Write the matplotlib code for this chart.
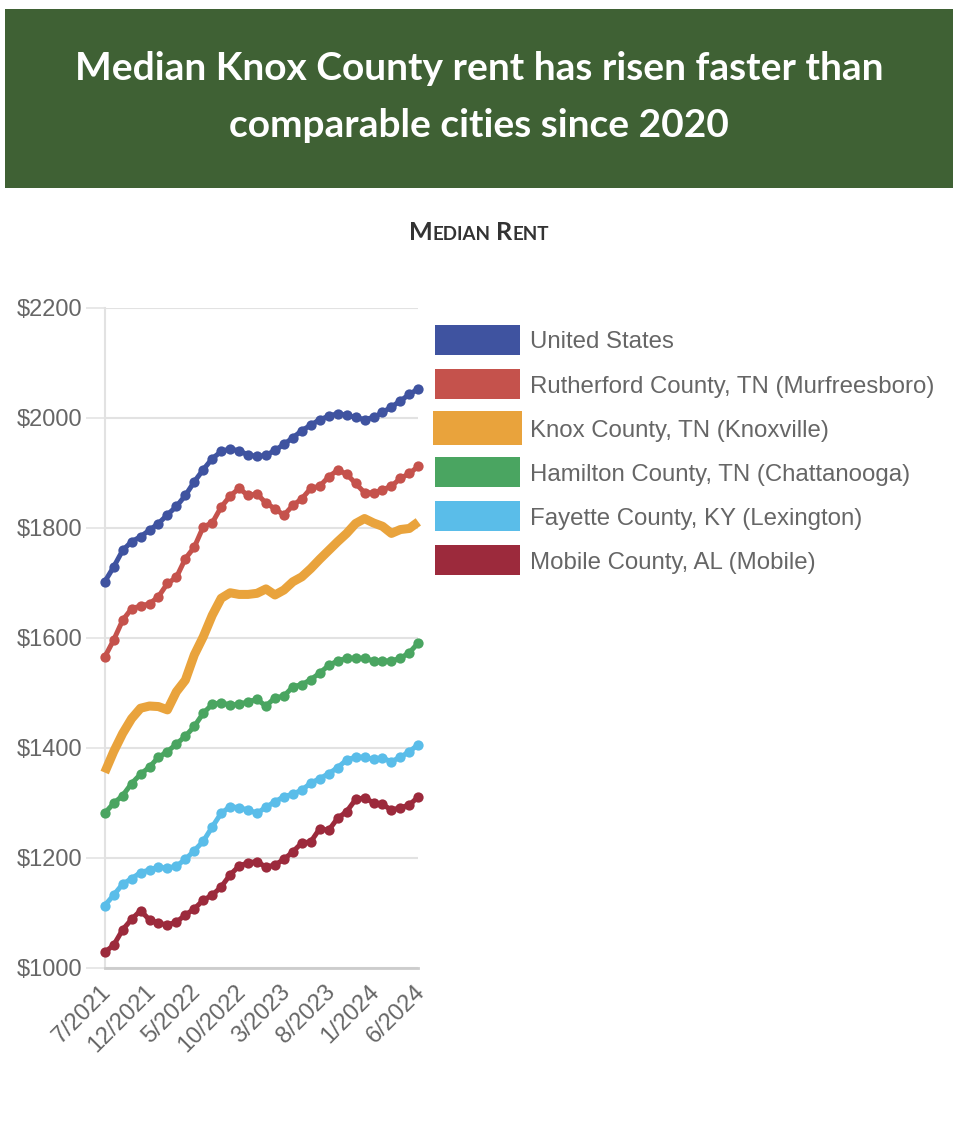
import matplotlib
matplotlib.use('Agg')
import matplotlib.pyplot as plt
from matplotlib.patches import Rectangle
from matplotlib.ticker import FuncFormatter
import matplotlib.transforms as mtransforms
import numpy as np

# ---------------- data ----------------
month_index = list(range(36))  # 7/2021 .. 6/2024, monthly
tick_positions = [0, 5, 10, 15, 20, 25, 30, 35]
tick_labels = ['7/2021', '12/2021', '5/2022', '10/2022', '3/2023', '8/2023', '1/2024', '6/2024']

series_names = ['United States', 'Rutherford County, TN (Murfreesboro)', 'Knox County, TN (Knoxville)',
                'Hamilton County, TN (Chattanooga)', 'Fayette County, KY (Lexington)', 'Mobile County, AL (Mobile)']

united_states = [1702, 1729, 1759, 1775, 1784, 1796, 1808, 1824, 1839, 1859, 1884, 1906, 1926, 1939, 1944, 1940,
                 1933, 1930, 1932, 1941, 1952, 1964, 1977, 1987, 1997, 2003, 2008, 2005, 2001, 1997, 2001, 2010,
                 2020, 2031, 2043, 2053]
rutherford = [1565, 1596, 1632, 1653, 1658, 1662, 1675, 1699, 1710, 1744, 1765, 1802, 1809, 1838, 1858, 1872,
              1859, 1862, 1845, 1835, 1823, 1841, 1853, 1872, 1876, 1893, 1905, 1898, 1881, 1864, 1864, 1869,
              1876, 1890, 1899, 1912]
knox = [1355, 1393, 1426, 1453, 1472, 1476, 1475, 1469, 1502, 1523, 1569, 1602, 1641, 1672, 1682, 1679,
        1679, 1681, 1689, 1678, 1687, 1702, 1711, 1726, 1743, 1759, 1775, 1790, 1808, 1817, 1809, 1803,
        1790, 1797, 1799, 1811]
hamilton = [1281, 1299, 1313, 1335, 1352, 1365, 1383, 1393, 1407, 1421, 1439, 1463, 1479, 1482, 1478, 1479,
            1484, 1488, 1476, 1491, 1494, 1511, 1515, 1524, 1536, 1550, 1558, 1563, 1563, 1563, 1558, 1558,
            1558, 1563, 1573, 1591]
fayette = [1113, 1132, 1152, 1162, 1173, 1178, 1183, 1181, 1185, 1197, 1213, 1230, 1256, 1281, 1293, 1291,
           1287, 1281, 1292, 1302, 1311, 1316, 1323, 1336, 1344, 1353, 1364, 1378, 1383, 1383, 1379, 1381,
           1375, 1383, 1393, 1406]
mobile = [1028, 1041, 1069, 1088, 1104, 1087, 1081, 1078, 1083, 1096, 1107, 1123, 1132, 1147, 1169, 1185,
          1191, 1193, 1183, 1187, 1197, 1211, 1227, 1229, 1253, 1250, 1272, 1284, 1306, 1309, 1300, 1297,
          1287, 1291, 1296, 1311]

y_ticks = [1000, 1200, 1400, 1600, 1800, 2000, 2200]

# ---------------- style ----------------
colors = ['#3f53a0', '#c5524c', '#e9a33c', '#4aa561', '#5abde9', '#9c2a3c']
all_series = [united_states, rutherford, knox, hamilton, fayette, mobile]

W, H = 962, 1132
fig = plt.figure(figsize=(W / 100, H / 100), dpi=100)
fig.patch.set_facecolor('white')


def fx(x):
    return x / W


def fy(y):
    return 1 - y / H


# title band
fig.patches.append(Rectangle((fx(5), fy(188)), fx(948), 179 / H, transform=fig.transFigure,
                             facecolor='#3f6134', edgecolor='none', zorder=0))

renderer = fig.canvas.get_renderer()


def fit_text(x, y, s, target_w, **kw):
    t = fig.text(x, y, s, **kw)
    w = t.get_window_extent(renderer).width
    t.set_fontsize(t.get_fontsize() * target_w / w)
    return t


fit_text(fx(479), fy(80), 'Median Knox County rent has risen faster than', 809,
         ha='center', va='baseline', color='white', fontsize=26, fontweight='bold', family='Lato')
fit_text(fx(479), fy(137), 'comparable cities since 2020', 500,
         ha='center', va='baseline', color='white', fontsize=26, fontweight='bold', family='Lato')

# small caps "Median Rent"
pieces = [('M', 17.5), ('EDIAN', 13.0), (' ', 13.0), ('R', 17.5), ('ENT', 13.0)]
tmp = []
total = 0
for s, sz in pieces:
    t = fig.text(0, 0, s, fontsize=sz, fontweight='bold', family='Lato', color='#333333')
    w = t.get_window_extent(renderer).width if s.strip() else sz * 0.28 * 100 / 72
    tmp.append((t, w))
    total += w
scale = 140 / total
xcur = 479 - total * scale / 2
for (t, w), (s, sz) in zip(tmp, pieces):
    t.set_fontsize(sz * scale)
    t.set_position((fx(xcur), fy(240)))
    t.set_va('baseline')
    xcur += w * scale

# ---------------- axes ----------------
ax = fig.add_axes([fx(104.7), fy(967.7), fx(313.6), 659.7 / H])
ax.set_xlim(0, 35)
ax.set_ylim(1000, 2200)
for sp in ['top', 'right']:
    ax.spines[sp].set_visible(False)
ax.spines['left'].set_color('#e2e2e2')
ax.spines['left'].set_linewidth(1.5)
ax.spines['bottom'].set_color('#cccccc')
ax.spines['bottom'].set_linewidth(2)
ax.set_yticks(y_ticks)
ax.yaxis.set_major_formatter(FuncFormatter(lambda v, p: f'${int(v)}'))
ax.yaxis.grid(True, color='#e2e2e2', linewidth=1.5, zorder=0)
ax.set_axisbelow(True)
ax.tick_params(axis='y', length=13.7, width=1.1, color='#e2e2e2', pad=2.5,
               labelsize=17, labelcolor='#666666')
ax.set_xticks(tick_positions)
ax.set_xticklabels(tick_labels)
ax.tick_params(axis='x', length=0, pad=15, labelsize=17, labelcolor='#666666')
for lab in ax.get_xticklabels() + ax.get_yticklabels():
    lab.set_family('Liberation Sans')
for lab in ax.get_xticklabels():
    lab.set_rotation(45)
    lab.set_ha('right')
    lab.set_va('center')
    lab.set_rotation_mode('anchor')
    lab.set_transform(lab.get_transform() + mtransforms.ScaledTranslation(3 / 100, 0, fig.dpi_scale_trans))

for name, vals, c in zip(series_names, all_series, colors):
    if name.startswith('Knox'):
        ax.plot(month_index, vals, color=c, lw=6.5, solid_capstyle='butt', solid_joinstyle='round',
                clip_on=False, zorder=3)
    else:
        ax.plot(month_index, vals, color=c, lw=3.6, marker='o', markersize=7.4, markeredgewidth=0,
                clip_on=False, zorder=3)

# ---------------- legend ----------------
row_centers = [339.5, 384, 428, 472, 516, 560]
for name, c, yc in zip(series_names, colors, row_centers):
    if name.startswith('Knox'):
        x0, x1, h = 433, 522, 34
    else:
        x0, x1, h = 435, 520, 30
    fig.patches.append(Rectangle((fx(x0), fy(yc + h / 2)), fx(x1 - x0), h / H, transform=fig.transFigure,
                                 facecolor=c, edgecolor='none'))
    fig.text(fx(530), fy(yc), name, ha='left', va='center_baseline', fontsize=17.3,
             color='#666666', family='Liberation Sans')

fig.savefig('out.png', dpi=100, facecolor='white')
